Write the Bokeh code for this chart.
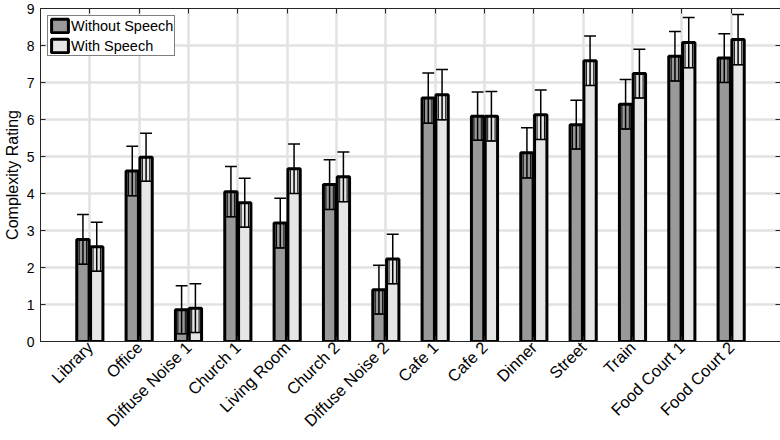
import math
from bokeh.plotting import figure
from bokeh.models import Range1d, FixedTicker, LinearAxis, Legend, LegendItem, ColumnDataSource
from bokeh.embed import file_html
from bokeh.resources import INLINE

categories = ["Library", "Office", "Diffuse Noise 1", "Church 1", "Living Room", "Church 2",
              "Diffuse Noise 2", "Cafe 1", "Cafe 2", "Dinner", "Street", "Train",
              "Food Court 1", "Food Court 2"]
without_speech = [2.76, 4.61, 0.86, 4.05, 3.20, 4.24, 1.40, 6.58, 6.09, 5.10, 5.86, 6.41, 7.71, 7.66]
without_err = [0.67, 0.67, 0.65, 0.68, 0.67, 0.67, 0.66, 0.68, 0.65, 0.68, 0.66, 0.67, 0.67, 0.66]
with_speech = [2.56, 4.98, 0.90, 3.75, 4.67, 4.45, 2.23, 6.67, 6.09, 6.13, 7.59, 7.24, 8.08, 8.16]
with_err = [0.66, 0.65, 0.66, 0.66, 0.67, 0.67, 0.67, 0.68, 0.67, 0.67, 0.67, 0.66, 0.68, 0.68]
y_ticks = [0, 1, 2, 3, 4, 5, 6, 7, 8, 9]

FONT = "Liberation Sans"
TXT = "#262626"
offset = 0.14
bar_w = 0.25
cap = 0.12
inner = 0.075

p = figure(frame_width=740, frame_height=333, x_range=Range1d(0, 15), y_range=Range1d(0, 9),
           output_backend="svg", toolbar_location=None,
           min_border_top=8, min_border_right=4, min_border_left=35, min_border_bottom=2)

positions = list(range(1, len(categories) + 1))

def series(vals, errs, shift, color):
    xs = [x + shift for x in positions]
    src = ColumnDataSource(dict(x=xs, top=vals,
                                lo=[v - e for v, e in zip(vals, errs)],
                                hi=[v + e for v, e in zip(vals, errs)],
                                cl=[x - cap for x in xs], cr=[x + cap for x in xs],
                                il=[x - inner for x in xs], ir=[x + inner for x in xs]))
    r = p.vbar(x="x", top="top", bottom=0, width=bar_w, source=src,
               fill_color=color, line_color="black", line_width=3)
    p.quad(left="il", right="ir", bottom="lo", top="top", source=src,
           fill_color=None, line_color="black", line_width=1)
    p.segment(x0="x", y0="lo", x1="x", y1="hi", source=src, line_color="black", line_width=1.5)
    p.segment(x0="cl", y0="hi", x1="cr", y1="hi", source=src, line_color="black", line_width=1.5)
    p.segment(x0="cl", y0="lo", x1="cr", y1="lo", source=src, line_color="black", line_width=1.5)
    return r

r1 = series(without_speech, without_err, -offset, "#999999")
r2 = series(with_speech, with_err, offset, "#e6e6e6")

# axes
p.xaxis.ticker = FixedTicker(ticks=positions)
p.xaxis.major_label_overrides = {i: c for i, c in zip(positions, categories)}
p.xaxis.major_label_orientation = math.pi / 4
p.yaxis.ticker = FixedTicker(ticks=y_ticks)
p.yaxis.axis_label = "Complexity Rating"
for ax in (p.xaxis[0], p.yaxis[0]):
    ax.major_tick_in = 5
    ax.major_tick_out = 0
    ax.minor_tick_in = 0
    ax.minor_tick_out = 0
    ax.axis_line_color = TXT
    ax.major_tick_line_color = TXT
    ax.major_label_text_font = FONT
    ax.major_label_text_color = "black"
p.xaxis.major_label_text_font_size = "16.5px"
p.xaxis.major_label_standoff = 3
p.yaxis.major_label_text_font_size = "14px"
p.yaxis.major_label_standoff = 6
p.yaxis.axis_label_text_font = FONT
p.yaxis.axis_label_text_font_size = "16px"
p.yaxis.axis_label_text_font_style = "normal"
p.yaxis.axis_label_text_color = "black"
p.yaxis.axis_label_standoff = 3

top_ax = LinearAxis(ticker=FixedTicker(ticks=positions),
                    major_label_overrides={i: "" for i in positions},
                    major_tick_in=5, major_tick_out=0, minor_tick_in=0, minor_tick_out=0,
                    axis_line_color=TXT, major_tick_line_color=TXT, major_label_standoff=0)
right_ax = LinearAxis(ticker=FixedTicker(ticks=y_ticks),
                      major_label_overrides={i: "" for i in y_ticks},
                      major_tick_in=5, major_tick_out=0, minor_tick_in=0, minor_tick_out=0,
                      axis_line_color=TXT, major_tick_line_color=TXT, major_label_standoff=0)
p.add_layout(top_ax, "above")
p.add_layout(right_ax, "right")

p.xgrid.ticker = FixedTicker(ticks=positions)
p.ygrid.ticker = FixedTicker(ticks=y_ticks)
for g in (p.xgrid[0], p.ygrid[0]):
    g.grid_line_color = "#e2e2e2"
    g.grid_line_width = 2.5
p.outline_line_color = TXT

legend = Legend(items=[LegendItem(label="Without Speech", renderers=[r1]),
                       LegendItem(label="With Speech", renderers=[r2])],
                location="top_left")
legend.label_text_font = FONT
legend.label_text_font_size = "14.5px"
legend.label_text_color = "black"
legend.glyph_width = 21
legend.glyph_height = 17
legend.label_standoff = 1
legend.label_height = 17
legend.spacing = 3
legend.padding = 1
legend.margin = 7
legend.border_line_color = "black"
legend.border_line_width = 1.5
legend.background_fill_alpha = 1
p.add_layout(legend)

open("out.html", "w").write(file_html(p, INLINE))
